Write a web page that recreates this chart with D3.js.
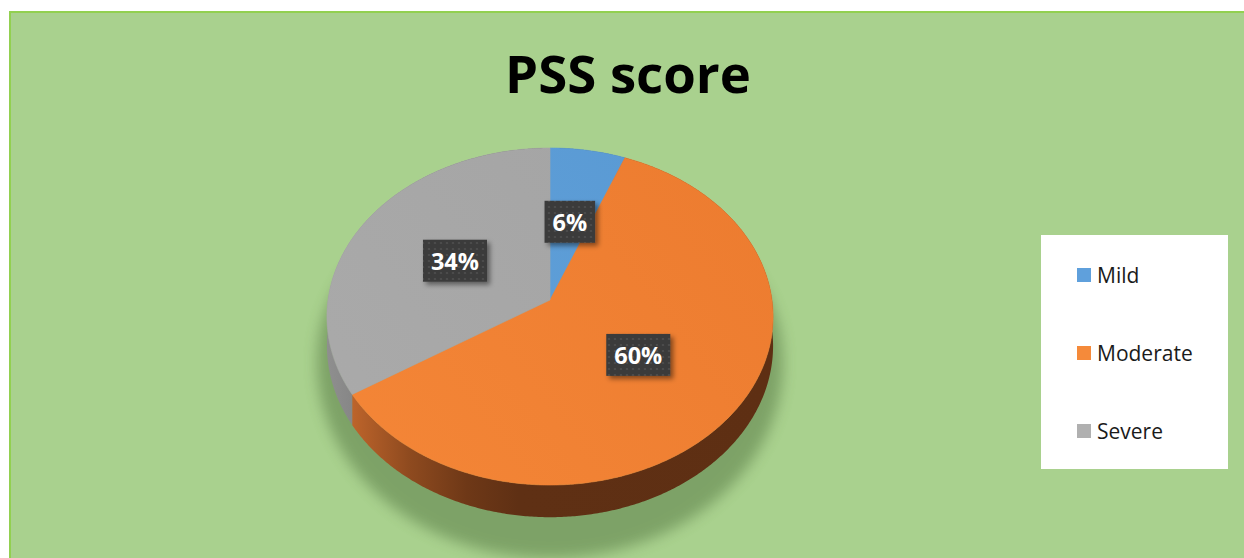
<!DOCTYPE html>
<html>
<head>
<meta charset="utf-8">
<script src="https://cdn.jsdelivr.net/npm/d3@7"></script>
<style>
  html, body { margin: 0; padding: 0; background: #ffffff; }
  svg { display: block; }
</style>
</head>
<body>
<script>
// ---- data ----
const categories = ["Mild", "Moderate", "Severe"];
const values = [6, 60, 34];
const labels = ["6%", "60%", "34%"];
const colors = ["#5b9bd5", "#ed7d31", "#a5a5a5"];
const title = "PSS score";

const W = 1244, H = 558;
const svg = d3.select("body").append("svg").attr("width", W).attr("height", H);
const defs = svg.append("defs");

// background frame
svg.append("rect").attr("x", 9).attr("y", 11).attr("width", W - 9).attr("height", H - 11).attr("fill", "#a9d18e");
svg.append("path").attr("d", `M10,${H} L10,12 L${W},12`).attr("fill", "none").attr("stroke", "#92d050").attr("stroke-width", 2);

// ---- 3D perspective pie geometry ----
const cx = 550, cy = 300, A = 166.9, B = 222, k = 0.098, depth = 29;
function proj(theta, r, dz) {
  const u = Math.sin(theta) * r, v = -Math.cos(theta) * r;
  const s = 1 / (1 - k * v);
  return [cx + B * u * s, cy + A * v * s + dz * s];
}
function arcPts(a0, a1, r, dz) {
  const n = Math.max(2, Math.ceil(Math.abs(a1 - a0) / (Math.PI / 360)));
  const pts = [];
  for (let i = 0; i <= n; i++) pts.push(proj(a0 + (a1 - a0) * i / n, r, dz));
  return pts;
}
const line = d3.line();

const pie = d3.pie().sort(null).value(d => d)(values);

// shadow
const shadowF = defs.append("filter").attr("id", "pieShadow").attr("x", "-20%").attr("y", "-20%").attr("width", "140%").attr("height", "140%");
shadowF.append("feGaussianBlur").attr("stdDeviation", 7);
const shPts = [];
for (let i = 0; i <= 720; i++) {
  const t = i / 720 * 2 * Math.PI;
  const v = -Math.cos(t);
  const rr = 1 + 0.075 * Math.max(0, v + 0.45);
  shPts.push(proj(t, rr, depth + 16 * Math.max(0, v)));
}
svg.append("path").attr("d", line(shPts) + "Z").attr("fill", "#4a6b37").attr("opacity", 0.45).attr("filter", "url(#pieShadow)");

// wall gradients
const x0 = cx - B - 1, x1 = cx + B + 1;
const gO = defs.append("linearGradient").attr("id", "wall1").attr("gradientUnits", "userSpaceOnUse")
  .attr("x1", x0).attr("x2", x1).attr("y1", 0).attr("y2", 0);
[[0, "#d06f2f"], [0.056, "#bd642b"], [0.186, "#8e4a1f"], [0.314, "#6e3817"], [0.43, "#5f3014"], [1, "#5e2f13"]]
  .forEach(s => gO.append("stop").attr("offset", s[0]).attr("stop-color", s[1]));
const gG = defs.append("linearGradient").attr("id", "wall2").attr("gradientUnits", "userSpaceOnUse")
  .attr("x1", x0).attr("x2", x1).attr("y1", 0).attr("y2", 0);
[[0, "#8f8f8f"], [0.06, "#868686"], [0.3, "#5a5a5a"], [1, "#505050"]]
  .forEach(s => gG.append("stop").attr("offset", s[0]).attr("stop-color", s[1]));
const gB = defs.append("linearGradient").attr("id", "wall0").attr("gradientUnits", "userSpaceOnUse")
  .attr("x1", x0).attr("x2", x1).attr("y1", 0).attr("y2", 0);
[[0, "#3f6f99"], [1, "#2f5677"]].forEach(s => gB.append("stop").attr("offset", s[0]).attr("stop-color", s[1]));

// top gradients (subtle)
const topStops = [["#62a3dc", "#5898d2"], ["#f48637", "#ec7b2f"], ["#aaaaaa", "#a3a3a3"]];
topStops.forEach((c, i) => {
  const g = defs.append("linearGradient").attr("id", "top" + i).attr("gradientUnits", "userSpaceOnUse")
    .attr("x1", cx - B).attr("y1", cy + A).attr("x2", cx + B).attr("y2", cy - A);
  g.append("stop").attr("offset", 0).attr("stop-color", c[0]);
  g.append("stop").attr("offset", 1).attr("stop-color", c[1]);
});

// walls
pie.forEach((d, i) => {
  const top = arcPts(d.startAngle, d.endAngle, 1, 0);
  const bot = arcPts(d.endAngle, d.startAngle, 1, depth);
  svg.append("path").attr("d", line(top.concat(bot)) + "Z").attr("fill", `url(#wall${i})`);
});
// tops
pie.forEach((d, i) => {
  const pts = [proj(0, 0, 0)].concat(arcPts(d.startAngle, d.endAngle, 1, 0));
  svg.append("path").attr("d", line(pts) + "Z").attr("fill", `url(#top${i})`)
    .attr("stroke", `url(#top${i})`).attr("stroke-width", 0.6);
});

// ---- data labels ----
const pat = defs.append("pattern").attr("id", "dots").attr("patternUnits", "userSpaceOnUse")
  .attr("width", 6).attr("height", 6);
pat.append("rect").attr("width", 6).attr("height", 6).attr("fill", "#3b3b3b");
pat.append("circle").attr("cx", 3).attr("cy", 3).attr("r", 1.1).attr("fill", "#4f4f4f");
const lblF = defs.append("filter").attr("id", "lblShadow").attr("x", "-30%").attr("y", "-30%").attr("width", "170%").attr("height", "170%");
lblF.append("feDropShadow").attr("dx", 3).attr("dy", 3).attr("stdDeviation", 2.5).attr("flood-color", "#000").attr("flood-opacity", 0.45);

pie.forEach((d, i) => {
  const mid = (d.startAngle + d.endAngle) / 2;
  const [lx, ly] = proj(mid, 0.5, 0);
  const g = svg.append("g");
  const txt = g.append("text").attr("x", lx).attr("y", ly).attr("text-anchor", "middle")
    .attr("dominant-baseline", "central").attr("font-family", "'Open Sans', sans-serif")
    .attr("font-weight", "bold").attr("font-size", 23.5).attr("fill", "#ffffff").text(labels[i]);
  const w = txt.node().getComputedTextLength() + 16;
  g.insert("rect", "text").attr("x", lx - w / 2).attr("y", ly - 21).attr("width", w).attr("height", 42)
    .attr("fill", "url(#dots)").attr("filter", "url(#lblShadow)");
});

// ---- title ----
const t = svg.append("text").attr("x", 628).attr("y", 93).attr("text-anchor", "middle")
  .attr("font-family", "'Open Sans', sans-serif").attr("font-weight", "bold").attr("font-size", 56)
  .attr("fill", "#000000").text(title);
const tw = t.node().getComputedTextLength();
t.attr("font-size", 56 * Math.min(1, 246 / tw));

// ---- legend ----
svg.append("rect").attr("x", 1041).attr("y", 235).attr("width", 187).attr("height", 234).attr("fill", "#ffffff");
const legY = d3.scalePoint().domain(categories).range([275, 431]);
const leg = svg.append("g").selectAll("g").data(categories).join("g")
  .attr("transform", d => `translate(1077,${legY(d)})`);
leg.append("rect").attr("x", 0).attr("y", -7).attr("width", 14).attr("height", 14)
  .attr("fill", (d, i) => ["#5fa0dc", "#f58a3a", "#b0b0b0"][i]);
leg.append("text").attr("x", 20).attr("y", 7.5).attr("font-family", "'Open Sans', sans-serif")
  .attr("font-size", 21).attr("fill", "#1a1a1a").text(d => d);
</script>
</body>
</html>
